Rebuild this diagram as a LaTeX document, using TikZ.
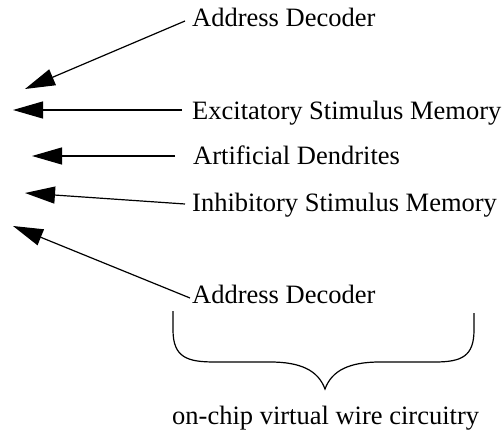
\documentclass[tikz,border=0pt]{standalone}
\usepackage{fontspec}
\setmainfont{Liberation Serif}
\usetikzlibrary{arrows.meta}
\begin{document}
\begin{tikzpicture}[x=1pt,y=-1pt,
  lbl/.style={anchor=base west,inner sep=0pt,font=\fontsize{26.5}{30}\selectfont},
  arr/.style={line width=1.2pt,-{Triangle[length=30pt,width=17pt]}},
  brace/.style={line width=1.2pt}]
\useasboundingbox (0,0) rectangle (504,433);
% labels
\node[lbl] (ad1) at (192,27) {Address Decoder};
\node[lbl] (esm) at (192,120) {Excitatory Stimulus Memory};
\node[lbl] (dend) at (193,165) {Artificial Dendrites};
\node[lbl] (ism) at (192,212) {Inhibitory Stimulus Memory};
\node[lbl] (ad2) at (192,304) {Address Decoder};
\node[lbl] (vw) at (172,424) {on-chip virtual wire circuitry};
% arrow ends
\coordinate (s1) at (185,21);  \coordinate (t1) at (25,89);
\coordinate (s2) at (182,110); \coordinate (t2) at (13,110);
\coordinate (s3) at (175,156); \coordinate (t3) at (32,156);
\coordinate (s4) at (185,204); \coordinate (t4) at (25,193);
\coordinate (s5) at (190,298); \coordinate (t5) at (13,226);
\draw[arr] (s1) -- (t1);
\draw[arr] (s2) -- (t2);
\draw[arr] (s3) -- (t3);
\draw[arr] (s4) -- (t4);
\draw[arr] (s5) -- (t5);
% brace
\coordinate (bl) at (173,311);
\coordinate (br) at (474,313);
\coordinate (bt) at (325,389);
\draw[brace] (bl) -- (173,330) .. controls (173,358) and (188,362) .. (215,362)
  -- (270,362) .. controls (300,362) and (318,370) .. (bt)
  .. controls (332,370) and (350,362) .. (380,362)
  -- (435,362) .. controls (462,362) and (474,356) .. (474,330) -- (br);
\end{tikzpicture}
\end{document}
